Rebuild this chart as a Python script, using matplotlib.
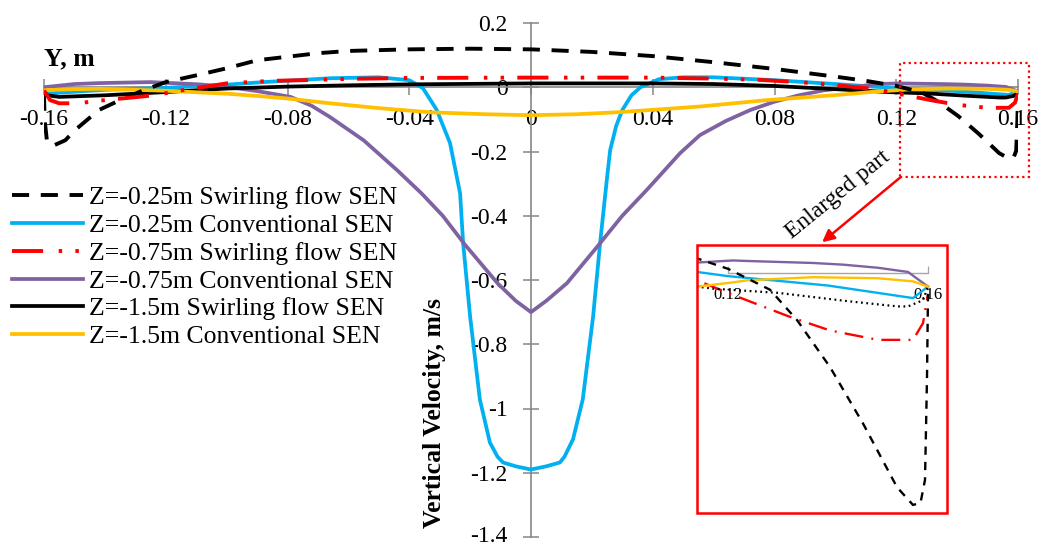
import matplotlib
matplotlib.use("Agg")
import matplotlib.pyplot as plt
from matplotlib.patches import Rectangle, FancyArrowPatch
from matplotlib.transforms import ScaledTranslation

plt.rcParams['font.family'] = ['Liberation Serif', 'DejaVu Serif']
plt.rcParams['axes.unicode_minus'] = False

# ---------------- data ----------------
labels = ["Z=-0.25m Swirling flow SEN", "Z=-0.25m Conventional SEN",
          "Z=-0.75m Swirling flow SEN", "Z=-0.75m Conventional SEN",
          "Z=-1.5m Swirling flow SEN", "Z=-1.5m Conventional SEN"]

x_sw025 = [-0.16, -0.1598, -0.159, -0.157, -0.153, -0.15, -0.142, -0.135, -0.128, -0.12, -0.11, -0.10,
           -0.09, -0.08, -0.07, -0.06, -0.04, -0.02, 0.0, 0.02, 0.04, 0.06, 0.08, 0.10, 0.11,
           0.1144, 0.12, 0.1284, 0.1338, 0.1404, 0.147, 0.1538, 0.157, 0.1585, 0.1594, 0.1598, 0.16]
y_sw025 = [-0.02, -0.10, -0.17, -0.182, -0.165, -0.135, -0.071, -0.04, -0.012, 0.016, 0.037, 0.059,
           0.084, 0.095, 0.106, 0.113, 0.118, 0.12, 0.118, 0.11, 0.097, 0.078, 0.057, 0.033, 0.02,
           0.013, 0.004, -0.016, -0.045, -0.090, -0.144, -0.205, -0.222, -0.22, -0.198, -0.10, -0.02]

x_cv025 = [-0.16, -0.14, -0.12, -0.10, -0.088, -0.066, -0.05, -0.04, -0.0355, -0.031,
           -0.0266, -0.0233, -0.0223, -0.02, -0.0168, -0.0135, -0.011, -0.0092, -0.005, 0.0,
           0.005, 0.0095, 0.011, 0.0138, 0.017, 0.0204, 0.0227, 0.025, 0.026, 0.028, 0.030, 0.033,
           0.036, 0.042, 0.05, 0.06, 0.08, 0.10, 0.1138, 0.12, 0.14, 0.157, 0.16]
y_cv025 = [-0.02, -0.008, -0.002, 0.008, 0.016, 0.028, 0.031, 0.022, -0.003, -0.07,
           -0.174, -0.33, -0.485, -0.714, -0.972, -1.106, -1.15, -1.168, -1.18, -1.19,
           -1.18, -1.168, -1.15, -1.096, -0.972, -0.714, -0.485, -0.28, -0.196, -0.12, -0.071, -0.025,
           0.0, 0.025, 0.031, 0.031, 0.022, 0.01, 0.001, -0.003, -0.012, -0.024, -0.013]

x_sw075 = [-0.16, -0.158, -0.155, -0.149, -0.14, -0.129, -0.124, -0.115, -0.10, -0.085, -0.075,
           -0.06, -0.04, 0.0, 0.04, 0.06, 0.075, 0.088, 0.10, 0.1138, 0.121, 0.1324, 0.1404,
           0.150, 0.157, 0.159, 0.16]
y_sw075 = [-0.01, -0.04, -0.05, -0.05, -0.04, -0.03, -0.025, -0.01, 0.012, 0.02, 0.022,
           0.026, 0.029, 0.03, 0.03, 0.027, 0.023, 0.016, 0.007, -0.007, -0.021, -0.042, -0.055,
           -0.064, -0.064, -0.048, -0.02]

x_cv075 = [-0.16, -0.15, -0.1416, -0.125, -0.109, -0.099, -0.090, -0.079, -0.072, -0.066,
           -0.055, -0.044, -0.036, -0.029, -0.0217, -0.011, -0.005, 0.0, 0.005, 0.0118, 0.0217,
           0.030, 0.038, 0.049, 0.0555, 0.064, 0.072, 0.080, 0.088, 0.096, 0.105, 0.1138, 0.121,
           0.1238, 0.137, 0.143, 0.150, 0.156, 0.16]
y_cv075 = [0.0, 0.01, 0.013, 0.016, 0.009, 0.0, -0.012, -0.03, -0.058, -0.093,
           -0.165, -0.258, -0.33, -0.40, -0.49, -0.61, -0.665, -0.70, -0.665, -0.61, -0.497,
           -0.40, -0.32, -0.205, -0.149, -0.105, -0.071, -0.045, -0.025, -0.01, 0.0, 0.010, 0.012,
           0.0115, 0.0096, 0.008, 0.005, 0.001, -0.013]

x_sw15 = [-0.16, -0.159, -0.155, -0.14, -0.12, -0.10, -0.08, -0.06, -0.04, 0.0, 0.04, 0.06, 0.08,
          0.088, 0.10, 0.1138, 0.117, 0.130, 0.144, 0.154, 0.156, 0.159, 0.16]
y_sw15 = [-0.01, -0.025, -0.03, -0.025, -0.015, -0.004, 0.002, 0.006, 0.009, 0.012, 0.012, 0.01,
          0.004, 0.0, -0.006, -0.013, -0.015, -0.019, -0.027, -0.032, -0.032, -0.026, -0.013]

x_cv15 = [-0.16, -0.15, -0.1416, -0.13, -0.12, -0.109, -0.10, -0.09, -0.08, -0.066, -0.05,
          -0.033, -0.015, 0.0, 0.015, 0.03, 0.045, 0.0555, 0.0775, 0.0993, 0.1138, 0.121, 0.1238,
          0.137, 0.150, 0.157, 0.16]
y_cv15 = [-0.009, -0.006, -0.005, -0.008, -0.011, -0.016, -0.02, -0.027, -0.035, -0.05, -0.065,
          -0.078, -0.084, -0.087, -0.084, -0.077, -0.067, -0.06, -0.04, -0.025, -0.013, -0.009,
          -0.007, -0.004, -0.005, -0.008, -0.013]

xticks = [-0.16, -0.12, -0.08, -0.04, 0.0, 0.04, 0.08, 0.12, 0.16]
xticklabels = ["-0.16", "-0.12", "-0.08", "-0.04", "0", "0.04", "0.08", "0.12", "0.16"]
yticks = [-1.4, -1.2, -1.0, -0.8, -0.6, -0.4, -0.2, 0.0, 0.2]
yticklabels = ["-1.4", "-1.2", "-1", "-0.8", "-0.6", "-0.4", "-0.2", "0", "0.2"]
inset_ticks = [0.12, 0.16]
inset_ticklabels = ["0.12", "0.16"]

# ---------------- figure ----------------
W, H = 1042, 547
fig = plt.figure(figsize=(W / 100, H / 100), dpi=100)

def fx(px):
    return px / W

def fy(py):
    return 1 - py / H

ax = fig.add_axes([fx(44), fy(537), (1018 - 44) / W, (537 - 23) / H])
ax.set_xlim(-0.16, 0.16)
ax.set_ylim(-1.4, 0.2)

BLUE = '#00B0F0'
PURPLE = '#7F62A1'
YELLOW = '#FFC000'
RED = '#FF0000'

l1, = ax.plot(x_sw025, y_sw025, color='black', lw=2.8, dashes=(4.4, 3.0), label=labels[0], zorder=4)
l2, = ax.plot(x_cv025, y_cv025, color=BLUE, lw=2.7, label=labels[1], zorder=3)
l3, = ax.plot(x_sw075, y_sw075, color=RED, lw=2.8, dashes=(8.0, 4.0, 0.9, 3.4, 0.9, 3.4),
              label=labels[2], zorder=5)
l4, = ax.plot(x_cv075, y_cv075, color=PURPLE, lw=2.7, label=labels[3], zorder=3)
l5, = ax.plot(x_sw15, y_sw15, color='black', lw=2.7, label=labels[4], zorder=3)
l6, = ax.plot(x_cv15, y_cv15, color=YELLOW, lw=2.7, label=labels[5], zorder=3)

for s in ['top', 'right']:
    ax.spines[s].set_visible(False)
ax.spines['left'].set_position(('data', 0))
ax.spines['bottom'].set_position(('data', 0))
for s in ['left', 'bottom']:
    ax.spines[s].set_color('#868686')
    ax.spines[s].set_linewidth(1.2)
ax.set_xticks(xticks)
ax.set_xticklabels(xticklabels)
ax.set_yticks(yticks)
ax.set_yticklabels(yticklabels)
ax.tick_params(axis='both', direction='inout', length=12, width=1.1, color='#868686',
               labelsize=17, labelcolor='black')
ax.tick_params(axis='x', pad=10)
ax.tick_params(axis='y', pad=11)
ax.patch.set_visible(False)
# keep the lowest y tick label inside the canvas
low = ax.get_yticklabels()[0]
low.set_transform(low.get_transform() + ScaledTranslation(0, 3 / 100, fig.dpi_scale_trans))

fig.text(fx(44), fy(59), "Y, m", fontsize=18.5, fontweight='bold', ha='left', va='center')
fig.text(fx(435), fy(413), "Vertical Velocity, m/s", fontsize=18.5, fontweight='bold',
         rotation=90, ha='center', va='center')

leg = fig.legend(handles=[l1, l2, l3, l4, l5, l6], loc='upper left',
                 bbox_to_anchor=(fx(12), fy(186)), frameon=False, fontsize=18.5,
                 handlelength=2.75, handletextpad=0.25, labelspacing=0.19,
                 borderpad=0, borderaxespad=0)

# dotted rectangle marking enlarged region
fig.patches.append(Rectangle((fx(900), fy(177)), (1029 - 900) / W, (177 - 63) / H,
                             transform=fig.transFigure, fill=False, edgecolor=RED,
                             lw=1.6, linestyle=(0, (1, 1.5)), zorder=6))
# arrow
fig.patches.append(FancyArrowPatch((fx(902), fy(176)), (fx(820), fy(244)),
                                   transform=fig.transFigure, arrowstyle='-|>',
                                   mutation_scale=18, color=RED, lw=1.8, zorder=6))
fig.text(fx(838), fy(195), "Enlarged part", fontsize=17, rotation=39,
         rotation_mode='anchor', ha='center', va='center')

# ---------------- inset ----------------
ins = fig.add_axes([fx(697), fy(513), (947 - 697) / W, (513 - 245) / H])
ins.set_xlim(0.1138, 0.1638)
ins.set_ylim(-0.2297, 0.0268)
ins.patch.set_visible(False)
ins.plot(x_sw025, y_sw025, color='black', lw=1.7, dashes=(3.5, 3.0), zorder=4)
ins.plot(x_cv025, y_cv025, color=BLUE, lw=1.7, zorder=3)
ins.plot(x_sw075, y_sw075, color=RED, lw=1.7, dashes=(8, 3.5, 0.8, 3.5), zorder=3)
ins.plot(x_cv075, y_cv075, color=PURPLE, lw=1.7, zorder=3)
ins.plot(x_sw15, y_sw15, color='black', lw=1.6, dashes=(0.8, 1.6), zorder=3)
ins.plot(x_cv15, y_cv15, color=YELLOW, lw=1.7, zorder=3)
for s in ['top', 'right', 'left']:
    ins.spines[s].set_visible(False)
ins.spines['bottom'].set_position(('data', 0))
ins.spines['bottom'].set_bounds(inset_ticks[0], inset_ticks[-1])
ins.spines['bottom'].set_color('#A6A6A6')
ins.spines['bottom'].set_linewidth(1.0)
ins.set_yticks([])
ins.set_xticks(inset_ticks)
ins.set_xticklabels(inset_ticklabels)
ins.tick_params(axis='x', direction='in', length=5, width=0.9, color='#A6A6A6',
                labelsize=12, pad=10)
fig.patches.append(Rectangle((fx(697), fy(513)), (947 - 697) / W, (513 - 245) / H,
                             transform=fig.transFigure, fill=False, edgecolor=RED,
                             lw=1.8, zorder=6))

fig.savefig("out.png", dpi=100)
